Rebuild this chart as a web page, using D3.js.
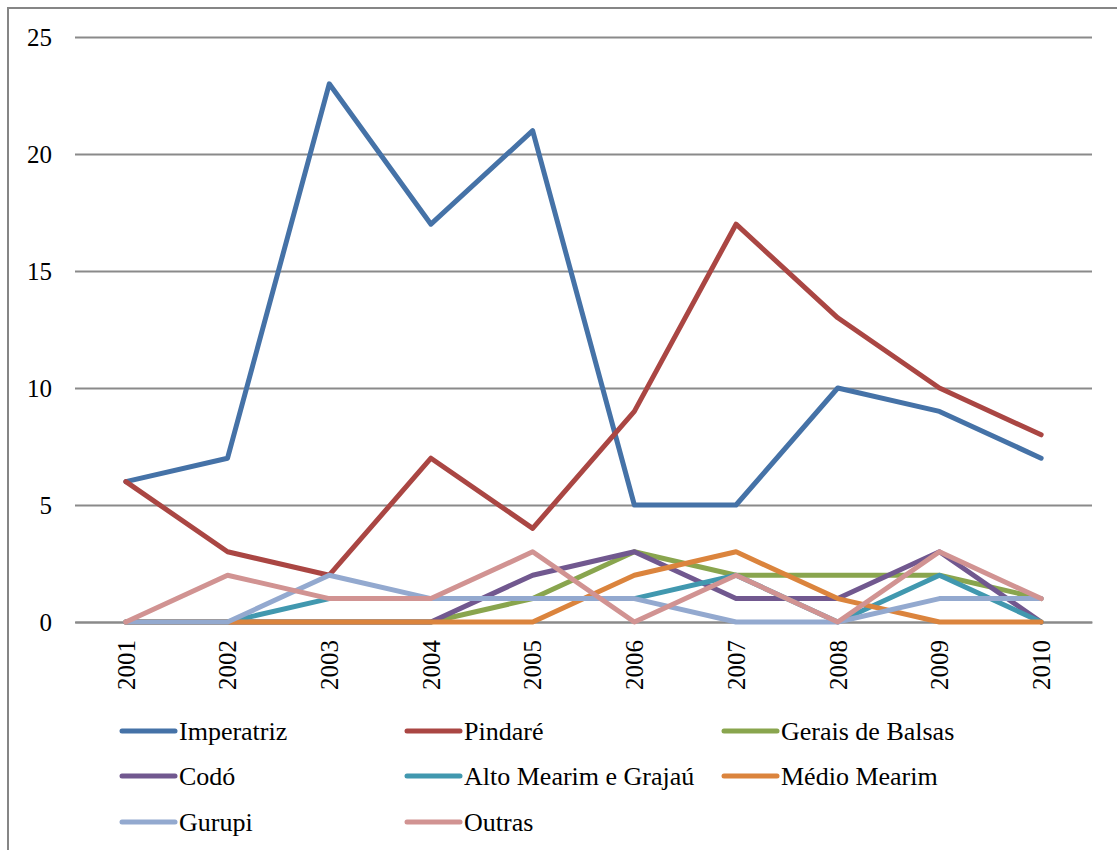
<!DOCTYPE html>
<html>
<head>
<meta charset="utf-8">
<script src="https://cdn.jsdelivr.net/npm/d3@7/dist/d3.min.js"></script>
<style>
  html, body { margin: 0; padding: 0; background: #fff; }
  svg { display: block; }
  svg text { font-family: 'Liberation Serif', LiberationSerif, Tinos, 'Times New Roman', 'DejaVu Serif', DejaVuSerif, 'Noto Serif', FreeSerif, 'Nimbus Roman', 'Nimbus Roman No9 L', Georgia, serif !important; fill: #000; }
</style>
</head>
<body>
<svg id="chart" width="1117" height="850"></svg>
<script>
const years = ["2001","2002","2003","2004","2005","2006","2007","2008","2009","2010"];
const seriesNames = ["Imperatriz","Pindaré","Gerais de Balsas","Codó","Alto Mearim e Grajaú","Médio Mearim","Gurupi","Outras"];
const imperatriz = [6,7,23,17,21,5,5,10,9,7];
const pindare    = [6,3,2,7,4,9,17,13,10,8];
const gerais     = [0,0,0,0,1,3,2,2,2,1];
const codo       = [0,0,0,0,2,3,1,1,3,0];
const altoMearim = [0,0,1,1,1,1,2,0,2,0];
const medioMearim= [0,0,0,0,0,2,3,1,0,0];
const gurupi     = [0,0,2,1,1,1,0,0,1,1];
const outras     = [0,2,1,1,3,0,2,0,3,1];
const yTicks = [0,5,10,15,20,25];
const colors = ["#4572A7","#AA4643","#89A54E","#71588F","#4198AF","#DB843D","#93A9CF","#D19392"];

const allValues = [imperatriz,pindare,gerais,codo,altoMearim,medioMearim,gurupi,outras];
const series = seriesNames.map((n,i)=>({name:n, values:allValues[i], color:colors[i]}));

const svg = d3.select("#chart");
const plot = {left:75, right:1092, top:37, bottom:622};

// chart area border
svg.append("rect").attr("x",8).attr("y",8).attr("width",1130).attr("height",870)
  .attr("fill","none").attr("stroke","#868686").attr("stroke-width",2);

const x = d3.scaleBand().domain(years).range([plot.left, plot.right]);
const y = d3.scaleLinear().domain([0,25]).range([plot.bottom, plot.top]);

// gridlines + y labels
const yAxis = d3.axisLeft(y).tickValues(yTicks).tickSize(-(plot.right-plot.left)).tickPadding(23).tickFormat(d3.format("d"));
const gy = svg.append("g").attr("transform",`translate(${plot.left},0)`).call(yAxis)
  .attr("font-family", null).attr("font-size", 25);
gy.select(".domain").remove();
gy.selectAll(".tick line").attr("stroke","#8a8a8a").attr("stroke-width",2);

// x axis
const xAxis = d3.axisBottom(x).tickSize(0).tickPadding(0);
const gx = svg.append("g").attr("transform",`translate(0,${plot.bottom})`).call(xAxis)
  .attr("font-family", null).attr("font-size", 25);
gx.select(".domain").attr("stroke","#8a8a8a").attr("stroke-width",2);
gx.selectAll(".tick text")
  .attr("text-anchor","end")
  .attr("transform","rotate(-90)")
  .attr("x",-18).attr("y",0).attr("dy","0.35em");

// lines
const line = d3.line().x((d,i)=>x(years[i])+x.bandwidth()/2).y(d=>y(d));
series.forEach(s=>{
  svg.append("path").datum(s.values).attr("d",line)
    .attr("fill","none").attr("stroke",s.color).attr("stroke-width",5)
    .attr("stroke-linejoin","round").attr("stroke-linecap","round");
});

// legend
const colX = [120, 405, 722];
const rowY = [731, 776, 822];
series.forEach((s,i)=>{
  const cx = colX[i%3], cy = rowY[Math.floor(i/3)];
  const g = svg.append("g").attr("transform",`translate(${cx},${cy})`);
  g.append("line").attr("x1",2).attr("x2",55).attr("y1",0).attr("y2",0)
    .attr("stroke",s.color).attr("stroke-width",5).attr("stroke-linecap","round");
  g.append("text").attr("x",59).attr("y",0).attr("dy","0.35em")
    .attr("font-size",26).text(s.name);
});
</script>
</body>
</html>
